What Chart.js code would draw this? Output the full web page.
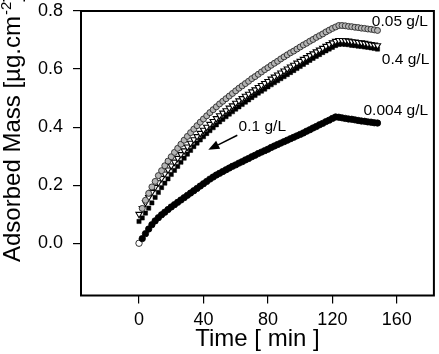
<!DOCTYPE html>
<html>
<head>
<meta charset="utf-8">
<script src="https://cdn.jsdelivr.net/npm/chart.js@4.4.0/dist/chart.umd.min.js"></script>
<style>
html, body { margin: 0; padding: 0; background: #fff; }
canvas { display: block; }
</style>
</head>
<body>
<canvas id="chart" width="439" height="354" style="width:439px;height:354px"></canvas>
<script>
// time in minutes, one reading every 2 min
var times = [0, 2, 4, 6, 8, 10, 12, 14, 16, 18, 20, 22, 24, 26, 28, 30, 32, 34, 36, 38,
	40, 42, 44, 46, 48, 50, 52, 54, 56, 58, 60, 62, 64, 66, 68, 70, 72, 74, 76, 78,
	80, 82, 84, 86, 88, 90, 92, 94, 96, 98, 100, 102, 104, 106, 108, 110, 112, 114, 116, 118,
	120, 122, 124, 126, 128, 130, 132, 134, 136, 138, 140, 142, 144, 146, 148];

// adsorbed mass [ug/cm2]
var mass005 = [null, 0.120, 0.148, 0.172, 0.194, 0.213, 0.233, 0.250, 0.267, 0.283,
	0.298, 0.313, 0.327, 0.341, 0.355, 0.368, 0.381, 0.393, 0.405, 0.417,
	0.428, 0.439, 0.450, 0.460, 0.470, 0.480, 0.489, 0.498, 0.507, 0.516,
	0.525, 0.534, 0.542, 0.550, 0.558, 0.567, 0.574, 0.582, 0.590, 0.598,
	0.605, 0.613, 0.620, 0.627, 0.635, 0.642, 0.649, 0.656, 0.662, 0.669,
	0.676, 0.683, 0.689, 0.696, 0.702, 0.709, 0.715, 0.721, 0.728, 0.734,
	0.740, 0.745, 0.750, 0.750, 0.749, 0.747, 0.746, 0.744, 0.743, 0.741,
	0.740, 0.738, 0.737, 0.735, 0.733];
var mass04 = [0.100, 0.120, 0.140, 0.158, 0.176, 0.193, 0.209, 0.224, 0.239, 0.253,
	0.267, 0.280, 0.293, 0.306, 0.319, 0.332, 0.345, 0.357, 0.368, 0.379,
	0.390, 0.400, 0.410, 0.420, 0.430, 0.440, 0.449, 0.457, 0.466, 0.474,
	0.483, 0.491, 0.499, 0.507, 0.514, 0.522, 0.529, 0.537, 0.544, 0.551,
	0.558, 0.566, 0.573, 0.580, 0.587, 0.594, 0.601, 0.608, 0.614, 0.621,
	0.627, 0.634, 0.640, 0.647, 0.653, 0.660, 0.666, 0.672, 0.679, 0.685,
	0.691, 0.696, 0.699, 0.699, 0.698, 0.697, 0.695, 0.694, 0.692, 0.691,
	0.689, 0.687, 0.685, 0.683, 0.681];
var mass01 = [0.075, 0.087, 0.104, 0.121, 0.139, 0.158, 0.175, 0.192, 0.207, 0.222,
	0.237, 0.251, 0.265, 0.279, 0.293, 0.307, 0.320, 0.333, 0.345, 0.356,
	0.367, 0.378, 0.388, 0.398, 0.408, 0.418, 0.427, 0.436, 0.445, 0.453,
	0.462, 0.470, 0.478, 0.486, 0.494, 0.502, 0.509, 0.517, 0.524, 0.531,
	0.539, 0.546, 0.553, 0.560, 0.567, 0.574, 0.581, 0.588, 0.595, 0.602,
	0.609, 0.616, 0.623, 0.630, 0.637, 0.644, 0.650, 0.657, 0.663, 0.669,
	0.675, 0.681, 0.685, 0.686, 0.685, 0.684, 0.682, 0.681, 0.679, 0.678,
	0.676, 0.675, 0.673, 0.671, 0.669];
var mass0004 = [0.000, 0.016, 0.033, 0.049, 0.064, 0.077, 0.088, 0.098, 0.107, 0.116,
	0.125, 0.133, 0.141, 0.149, 0.157, 0.165, 0.173, 0.181, 0.189, 0.197,
	0.205, 0.213, 0.221, 0.228, 0.235, 0.241, 0.247, 0.253, 0.259, 0.265,
	0.270, 0.276, 0.281, 0.287, 0.292, 0.298, 0.303, 0.309, 0.314, 0.319,
	0.324, 0.330, 0.335, 0.340, 0.345, 0.350, 0.355, 0.360, 0.365, 0.370,
	0.375, 0.380, 0.386, 0.391, 0.397, 0.402, 0.408, 0.413, 0.419, 0.424,
	0.430, 0.435, 0.434, 0.432, 0.430, 0.428, 0.427, 0.425, 0.423, 0.421,
	0.420, 0.418, 0.417, 0.415, 0.414];

var xTicks = [0, 40, 80, 120, 160];
var yTicks = [0.0, 0.2, 0.4, 0.6, 0.8];

// curve labels, placed in data units
var noteText = ['0.05 g/L', '0.4 g/L', '0.004 g/L', '0.1 g/L'];
var noteX = [144.5, 150.7, 139.3, 61.8];
var noteY = [0.764, 0.631, 0.455, 0.400];
var arrowFrom = [61, 0.372];
var arrowTo = [43, 0.322];

var FONT = '"Liberation Sans", Arial, Helvetica, sans-serif';

function points(series) {
	var out = [];
	for (var i = 0; i < times.length; i++) {
		if (series[i] !== null) out.push({x: times[i], y: series[i]});
	}
	return out;
}

var extras = {
	id: 'extras',
	afterDatasetsDraw: function (chart) {
		var ctx = chart.ctx;
		var a = chart.chartArea;
		var xs = chart.scales.x, ys = chart.scales.y;
		ctx.save();
		ctx.strokeStyle = '#000';
		ctx.lineWidth = 2;
		ctx.strokeRect(a.left, a.top, a.right - a.left, a.bottom - a.top);

		ctx.fillStyle = '#000';
		ctx.font = '15.5px ' + FONT;
		ctx.textAlign = 'left';
		ctx.textBaseline = 'middle';
		for (var i = 0; i < noteText.length; i++) {
			ctx.fillText(noteText[i], xs.getPixelForValue(noteX[i]), ys.getPixelForValue(noteY[i]));
		}

		// arrow to the 0.1 g/L curve
		var x0 = xs.getPixelForValue(arrowFrom[0]), y0 = ys.getPixelForValue(arrowFrom[1]);
		var x1 = xs.getPixelForValue(arrowTo[0]), y1 = ys.getPixelForValue(arrowTo[1]);
		var ang = Math.atan2(y1 - y0, x1 - x0);
		var len = 11, half = 4.5;
		var bx = x1 - len * Math.cos(ang), by = y1 - len * Math.sin(ang);
		ctx.lineWidth = 1.5;
		ctx.beginPath();
		ctx.moveTo(x0, y0);
		ctx.lineTo(bx, by);
		ctx.stroke();
		ctx.beginPath();
		ctx.moveTo(x1, y1);
		ctx.lineTo(bx + half * Math.sin(ang), by - half * Math.cos(ang));
		ctx.lineTo(bx - half * Math.sin(ang), by + half * Math.cos(ang));
		ctx.closePath();
		ctx.fill();

		// y axis title with superscript
		ctx.translate(19.5, 262);
		ctx.rotate(-Math.PI / 2);
		ctx.textBaseline = 'alphabetic';
		ctx.font = '24px ' + FONT;
		var t1 = 'Adsorbed Mass [\u00b5g.cm';
		ctx.fillText(t1, 0, 0);
		var w = ctx.measureText(t1).width;
		ctx.font = '15px ' + FONT;
		ctx.fillText('-2', w + 1, -9);
		w += ctx.measureText('-2').width + 1;
		ctx.font = '24px ' + FONT;
		ctx.fillText(']', w, 0);
		ctx.restore();
	}
};

var tickFont = {family: FONT, size: 18};

new Chart(document.getElementById('chart'), {
	type: 'scatter',
	data: {
		datasets: [{
			label: '0.05 g/L',
			data: points(mass005),
			pointStyle: 'circle',
			pointRadius: 3,
			pointBackgroundColor: '#b4b4b4',
			pointBorderColor: '#2a2a2a',
			pointBorderWidth: 0.9
		}, {
			label: '0.4 g/L',
			data: points(mass04),
			pointStyle: 'triangle',
			pointRotation: 180,
			pointRadius: 3.6,
			pointBackgroundColor: '#fff',
			pointBorderColor: '#000',
			pointBorderWidth: 1.1
		}, {
			label: '0.1 g/L',
			data: points(mass01),
			pointStyle: 'rect',
			pointRadius: 3,
			pointBackgroundColor: '#000',
			pointBorderColor: '#000',
			pointBorderWidth: 0.5
		}, {
			label: '0.004 g/L',
			data: points(mass0004),
			pointStyle: 'circle',
			pointRadius: 3.2,
			pointBackgroundColor: function (c) { return c.dataIndex === 0 ? '#fff' : '#000'; },
			pointBorderColor: '#000',
			pointBorderWidth: 0.8
		}]
	},
	options: {
		responsive: false,
		devicePixelRatio: 1,
		animation: false,
		events: [],
		layout: {padding: {top: 11, right: 5, left: 0, bottom: 0}},
		plugins: {legend: {display: false}, tooltip: {enabled: false}},
		scales: {
			x: {
				type: 'linear',
				min: -36,
				max: 183,
				afterBuildTicks: function (s) { s.ticks = xTicks.map(function (v) { return {value: v}; }); },
				afterFit: function (s) { s.height = 58.5; s.paddingLeft = 0; s.paddingRight = 0; },
				border: {display: false},
				grid: {drawOnChartArea: false, drawTicks: true, tickLength: 8, color: '#000', lineWidth: 1.2},
				ticks: {color: '#000', font: tickFont, padding: 6, maxRotation: 0,
					callback: function (v) { return String(v); }},
				title: {display: true, text: 'Time [ min ]', color: '#000',
					font: {family: FONT, size: 24}, padding: {top: 0, bottom: 0}}
			},
			y: {
				type: 'linear',
				min: -0.18,
				max: 0.8,
				afterBuildTicks: function (s) { s.ticks = yTicks.map(function (v) { return {value: v}; }); },
				afterFit: function (s) { s.width = 81; s.paddingTop = 0; s.paddingBottom = 0; },
				border: {display: false},
				grid: {drawOnChartArea: false, drawTicks: true, tickLength: 8, color: '#000', lineWidth: 1.2},
				ticks: {color: '#000', font: tickFont, padding: 10,
					callback: function (v) { return v.toFixed(1); }}
			}
		}
	},
	plugins: [extras]
});
</script>
</body>
</html>
